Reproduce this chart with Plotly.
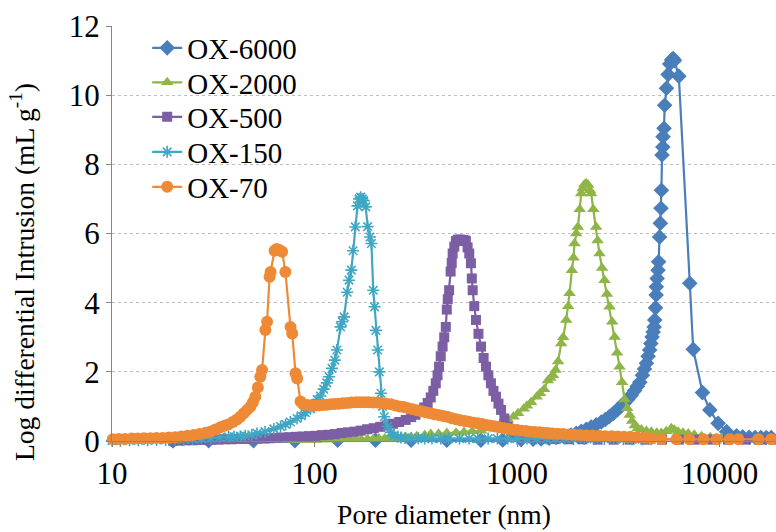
import plotly.graph_objects as go

# Pore size distributions (mercury intrusion): pore diameter in nm, log differential intrusion in mL/g

ox6000_d = [20, 30, 50, 80, 130, 200, 300, 450, 663, 850, 1047, 1200, 1315, 1440, 1560, 1700,
            1849, 1960, 2075, 2200, 2323, 2460, 2606, 2730, 2851, 2990, 3126, 3250, 3388, 3520,
            3664, 3800, 3926, 4040, 4159, 4260, 4355, 4440, 4519, 4580, 4645, 4700, 4753, 4786,
            4830, 4864, 4875, 4920, 4966, 5000, 5058, 5100, 5140, 5164, 5200, 5248, 5260, 5321,
            5358, 5470, 5572, 5675, 5800, 5902, 5984, 6295, 7129, 7413, 8241, 8954, 9840, 10839,
            12134, 13000, 14000, 15000, 16000, 17000, 18000]
ox6000_v = [0.00, 0.01, 0.01, 0.01, 0.02, 0.02, 0.02, 0.02, 0.02, 0.03, 0.04, 0.05, 0.06, 0.08, 0.10, 0.13,
            0.17, 0.22, 0.28, 0.34, 0.40, 0.47, 0.55, 0.62, 0.70, 0.80, 0.90, 1.00, 1.10, 1.20,
            1.32, 1.45, 1.58, 1.70, 1.90, 2.08, 2.25, 2.45, 2.63, 2.82, 3.01, 3.15, 3.30, 3.50,
            3.85, 4.22, 4.46, 4.70, 4.94, 5.18, 5.90, 6.30, 6.73, 7.25, 8.27, 8.50, 8.80, 9.04,
            9.71, 10.20, 10.60, 10.90, 11.02, 11.06, 11.00, 10.55, 4.56, 2.65, 1.40, 0.90, 0.51, 0.27,
            0.15, 0.12, 0.11, 0.10, 0.10, 0.10, 0.10]

ox2000_d = [52, 56, 60, 65, 70, 76, 82, 88, 95, 102, 110, 119, 128, 138, 148, 159, 170, 183, 195,
            208, 222, 236, 250, 267, 283, 300, 320, 350, 375, 410,
            450, 500, 547, 600, 664, 718, 780, 834, 900, 960, 1012, 1080, 1120, 1173, 1250, 1300,
            1361, 1420, 1460, 1507, 1550, 1595, 1652, 1690, 1750, 1790, 1817, 1866, 1900, 1922,
            1960, 1997, 2040, 2074, 2110, 2150, 2197, 2246, 2290, 2323, 2380, 2459, 2500, 2554,
            2630, 2704, 2780, 2864, 2950, 3034, 3120, 3208, 3300, 3397, 3500, 3597, 3700, 3811,
            3950, 4113, 4350, 4605, 4900, 5160, 5450, 5783, 6000, 6248, 6600, 7003, 7500, 8149,
            9000, 10233, 11500, 12850, 15000, 18060]
ox2000_v = [0.01, 0.01, 0.02, 0.02, 0.02, 0.02, 0.03, 0.03, 0.03, 0.03, 0.04, 0.04, 0.04, 0.05, 0.05, 0.05, 0.05, 0.06, 0.06,
            0.07, 0.07, 0.08, 0.08, 0.09, 0.10, 0.11, 0.14, 0.17, 0.20, 0.21,
            0.23, 0.24, 0.26, 0.28, 0.30, 0.36, 0.44, 0.52, 0.62, 0.70, 0.80, 0.93, 1.02, 1.12, 1.28, 1.38,
            1.50, 1.75, 1.82, 1.90, 2.05, 2.30, 2.82, 3.00, 3.50, 3.90, 4.27, 4.94, 5.30, 5.71,
            6.00, 6.19, 6.70, 7.16, 7.30, 7.42, 7.45, 7.40, 7.25, 7.16, 6.70, 6.19, 5.80, 5.42,
            5.00, 4.65, 4.25, 3.88, 3.45, 3.01, 2.55, 2.15, 1.70, 1.20, 0.95, 0.75, 0.58, 0.45,
            0.37, 0.33, 0.29, 0.27, 0.24, 0.23, 0.28, 0.37, 0.32, 0.27, 0.24, 0.22, 0.18, 0.14,
            0.11, 0.09, 0.07, 0.06, 0.05, 0.05]

ox500_d = [20, 21.5, 23, 25, 27, 29, 31, 33.5, 36, 39, 42, 45, 48.5, 52, 56, 60, 65, 70, 75, 81,
           87, 94, 101, 109, 117, 126, 136, 146, 157, 169, 182, 196, 211, 227, 244, 262, 282, 300,
           315, 332, 348, 362, 375, 386, 397, 405, 412, 420, 429, 437,
           445, 450, 455, 462, 470, 476, 481, 490, 499, 510, 520, 530, 542, 552, 559, 570, 581,
           592, 598, 604, 615, 627, 645, 664, 684, 703, 722, 743, 765, 787, 810, 834, 866, 900,
           935, 970, 1030, 1087, 1200, 1350, 1550, 1800, 2100, 2500, 3000, 3600, 4300, 5200,
           6300, 7600, 9200, 11000, 13500, 16000, 18500]
ox500_v = [0.01, 0.01, 0.02, 0.02, 0.03, 0.03, 0.04, 0.04, 0.05, 0.05, 0.06, 0.06, 0.07, 0.07, 0.08, 0.08, 0.09, 0.10, 0.11, 0.12,
           0.13, 0.14, 0.15, 0.17, 0.18, 0.20, 0.23, 0.25, 0.27, 0.30, 0.34, 0.37, 0.41, 0.45, 0.50, 0.55, 0.61, 0.69,
           0.76, 0.85, 0.97, 1.10, 1.26, 1.45, 1.67, 1.90, 2.15, 2.45, 2.73, 3.00,
           3.30, 3.80, 4.10, 4.36, 4.90, 5.15, 5.42, 5.62, 5.78, 5.82, 5.82, 5.82, 5.81, 5.80, 5.78, 5.60, 5.42,
           5.14, 4.70, 4.36, 3.90, 3.50, 3.10, 2.73, 2.40, 2.15, 1.90, 1.67, 1.45, 1.28, 1.08, 0.90, 0.65, 0.41,
           0.30, 0.22, 0.15, 0.12, 0.09, 0.07, 0.06, 0.05, 0.05, 0.04, 0.04, 0.04, 0.04, 0.04,
           0.04, 0.04, 0.04, 0.04, 0.04, 0.04, 0.04]

ox150_d = [10, 11, 12.2, 13.5, 15, 16.6, 18.4, 20.4, 22.6, 25, 27.7, 30.7, 34, 37.6, 40, 43, 45.5,
           49, 52, 57, 63, 68, 72, 76, 82, 86, 90, 95.5, 99, 103, 107, 111, 115, 118, 122, 126,
           129, 134.5, 137, 140, 145, 148, 152, 155, 159, 163, 166, 169, 172, 175, 179, 183, 188,
           191, 195, 198, 201, 205, 209, 213, 217, 221, 229, 238, 247, 258, 267, 280, 300, 325,
           350, 380, 420, 460, 520, 580, 640, 720, 800, 900, 1000, 1120, 1250, 1400, 1550, 1720,
           1900, 2150, 2400, 2700, 3000, 3350, 3700, 4150, 4600]
ox150_v = [0.01, 0.01, 0.02, 0.02, 0.02, 0.03, 0.03, 0.04, 0.05, 0.06, 0.07, 0.08, 0.10, 0.12, 0.13, 0.14, 0.15,
           0.18, 0.22, 0.27, 0.35, 0.42, 0.48, 0.55, 0.65, 0.73, 0.82, 0.93, 1.05, 1.20, 1.30, 1.50, 1.68, 1.86, 2.10, 2.34,
           2.63, 3.30, 3.45, 3.59, 4.30, 4.65, 4.94, 5.50, 6.19, 6.80, 7.00, 7.05, 7.00, 6.95, 6.77, 6.20, 5.90,
           5.71, 4.36, 3.88, 3.20, 2.63, 2.00, 1.38, 1.00, 0.70, 0.42, 0.25, 0.15, 0.12, 0.10, 0.09, 0.08, 0.08,
           0.07, 0.07, 0.07, 0.07, 0.07, 0.07, 0.07, 0.07, 0.07, 0.07, 0.07, 0.07, 0.07, 0.07, 0.07, 0.07,
           0.06, 0.06, 0.06, 0.06, 0.06, 0.05, 0.05, 0.05, 0.05]

ox70_d = [10.1, 10.8, 11.6, 12.5, 13.4, 14.4, 15.5, 16.6, 17.8, 19.1, 20.5, 22.0, 23.6, 25.3, 27.1,
          29.0, 30.6, 32.4, 34.3, 36.0, 37.5, 39.5, 41.4, 43.0, 44.7, 46.5, 48.2, 49.6, 51.0, 52.5,
          54.0, 55.1, 57.2, 58.3, 60.0, 60.7, 63.5, 65.0, 67.0, 69.2, 71.8, 76.1, 77.6, 80.6, 82.1,
          85.3, 88.0, 92.1, 96.0, 100, 105, 110, 115, 120, 126, 132, 138, 145, 152, 160, 168, 176,
          185, 195, 205, 215, 226, 238, 250, 263, 276, 290, 305, 320, 336, 353, 371, 390, 410, 431,
          453, 476, 500, 525, 552, 580, 610, 641, 674, 708, 744, 782, 822, 864, 908, 954, 1003,
          1054, 1108, 1165, 1224, 1287, 1353, 1422, 1500, 1590, 1690, 1800, 1920, 2050, 2200,
          2360, 2540, 2730, 2930, 3150, 3380, 3630, 3900, 4250, 4620, 5160, 6120, 7100, 8340,
          9670, 11200, 12400, 15600, 18000]
ox70_v = [0.05, 0.06, 0.06, 0.07, 0.07, 0.08, 0.08, 0.09, 0.09, 0.10, 0.11, 0.13, 0.15, 0.17, 0.20,
          0.24, 0.27, 0.33, 0.40, 0.44, 0.48, 0.55, 0.62, 0.70, 0.80, 0.90, 0.99, 1.12, 1.28, 1.55,
          1.86, 2.05, 3.21, 3.45, 4.75, 4.89, 5.50, 5.55, 5.52, 5.47, 4.89, 3.30, 3.11, 1.96, 1.81,
          1.14, 1.06, 1.04, 1.03, 1.02, 1.03, 1.04, 1.05, 1.06, 1.07, 1.08, 1.09, 1.10, 1.11, 1.12, 1.12, 1.12,
          1.12, 1.11, 1.11, 1.09, 1.08, 1.06, 1.03, 1.00, 0.98, 0.95, 0.92, 0.89, 0.86, 0.83, 0.80, 0.77, 0.75, 0.72,
          0.70, 0.66, 0.63, 0.60, 0.58, 0.56, 0.53, 0.51, 0.49, 0.46, 0.44, 0.42, 0.39, 0.37, 0.35, 0.33, 0.32,
          0.30, 0.29, 0.27, 0.26, 0.25, 0.24, 0.23, 0.22, 0.21, 0.20, 0.19, 0.18, 0.17, 0.16,
          0.16, 0.15, 0.14, 0.14, 0.13, 0.12, 0.12, 0.11, 0.10, 0.07, 0.06, 0.05, 0.05, 0.05,
          0.05, 0.05, 0.05, 0.05, 0.05]

x_tick_vals = [10, 100, 1000, 10000]
x_tick_text = ["10", "100", "1000", "10000"]
y_tick_vals = [0, 2, 4, 6, 8, 10, 12]

FONT = "Liberation Serif"
BLACK = "#000000"

series = [
    ("OX-6000", ox6000_d, ox6000_v, "#4a7ebb", "diamond", 12),
    ("OX-2000", ox2000_d, ox2000_v, "#8fb547", "triangle-up", 11),
    ("OX-500", ox500_d, ox500_v, "#7b5ea3", "square", 10),
    ("OX-150", ox150_d, ox150_v, "#3fa7c3", "asterisk-open", 10),
    ("OX-70", ox70_d, ox70_v, "#ee8a35", "circle", 12),
]

# one legend per series so the rows can be spaced evenly with large text
legend_rows_px = [48, 82.5, 117, 152, 187]
plot_top, plot_bottom = 26, 441
plot_left, plot_width = 112, 664

fig = go.Figure()
layout_legends = {}
for i, (name, d, v, color, symbol, size) in enumerate(series):
    marker = dict(symbol=symbol, size=size, color=color)
    if symbol == "asterisk-open":
        marker["line"] = dict(color=color, width=1.6)
    else:
        marker["line"] = dict(width=0)
    legend_id = "legend" if i == 0 else f"legend{i + 1}"
    fig.add_trace(go.Scatter(
        x=d, y=v, name=name, mode="lines+markers",
        line=dict(color=color, width=2.2),
        marker=marker, cliponaxis=False, legend=legend_id,
    ))
    layout_legends[legend_id] = dict(
        x=0.053, xanchor="left",
        y=(plot_bottom - legend_rows_px[i]) / (plot_bottom - plot_top), yanchor="middle",
        bgcolor="rgba(0,0,0,0)", borderwidth=0,
        font=dict(family=FONT, size=29, color=BLACK),
        itemwidth=30,
    )

fig.update_layout(
    width=776, height=532,
    margin=dict(l=plot_left, r=0, t=plot_top, b=532 - plot_bottom),
    paper_bgcolor="white", plot_bgcolor="white",
    font=dict(family=FONT, size=28, color=BLACK),
    showlegend=True,
    **layout_legends,
)

# vertical axis title, centred a little below the middle of the value axis
fig.add_annotation(
    text="Log differential Intrusion (mL g<sup>-1</sup>)",
    xref="paper", yref="paper",
    x=(22 - plot_left) / plot_width, y=(plot_bottom - 272) / (plot_bottom - plot_top),
    xanchor="center", yanchor="middle", textangle=-90, showarrow=False,
    font=dict(family=FONT, size=27.5, color=BLACK),
)

fig.update_xaxes(
    type="log", range=[1, 4.2788],
    tickvals=x_tick_vals, ticktext=x_tick_text,
    ticks="outside", ticklen=5, tickcolor="#868686",
    showline=True, linecolor="#868686", linewidth=1,
    showgrid=False, zeroline=False,
    tickfont=dict(family=FONT, size=31, color=BLACK),
    title=dict(text="Pore diameter (nm)", font=dict(family=FONT, size=27.5, color=BLACK), standoff=14),
)
fig.update_yaxes(
    range=[0, 12], tickvals=y_tick_vals,
    ticks="outside", ticklen=5, tickcolor="#868686",
    showline=True, linecolor="#868686", linewidth=1,
    showgrid=True, gridcolor="#bdbdbd", griddash="dot", gridwidth=1,
    zeroline=False,
    tickfont=dict(family=FONT, size=31, color=BLACK),
)

fig.write_html("out.html")
